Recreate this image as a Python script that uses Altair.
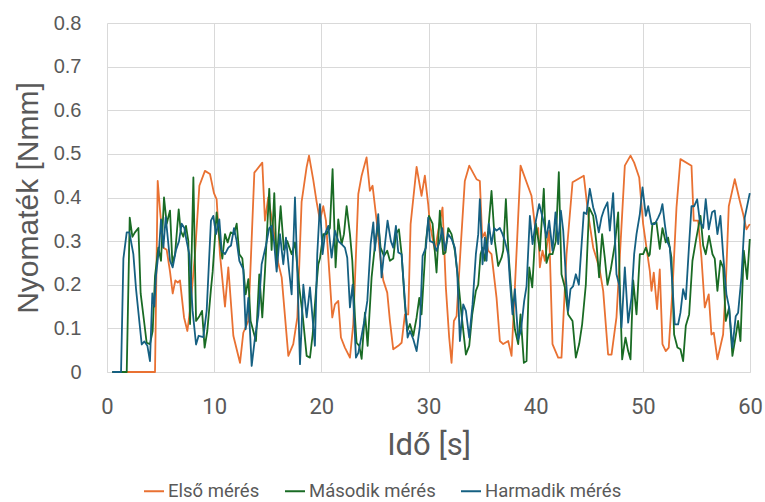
import altair as alt
import pandas as pd

# Torque measurements: time [s] and torque [Nmm] for three runs
t_first = [0.5, 4.48, 4.73, 4.95, 5.26, 5.57, 5.88, 6.13, 6.38, 6.60, 6.81, 7.19, 7.50, 7.81, 8.21, 8.62, 9.14, 9.61,
           9.98, 10.23, 10.54, 11.01, 11.32, 11.79, 12.41, 12.72, 13.19, 13.75, 14.49, 14.74, 15.05, 15.52, 15.98, 16.30,
           16.92, 17.38, 17.76, 18.16, 18.63, 18.85, 19.25, 19.56, 19.87,
           20.18, 20.43, 20.74, 21.02, 21.27, 21.58, 21.83, 22.20, 22.67, 22.98, 23.45, 23.76, 24.22, 24.53, 24.78, 25.16,
           25.47, 25.78, 26.15, 26.40, 26.71, 27.18, 27.49, 27.80, 28.11, 28.33, 28.89, 29.35, 29.66, 29.97,
           30.13, 30.60, 30.91, 31.31, 31.62, 31.93, 32.15, 32.37, 32.62, 33.02, 33.39, 33.80, 34.48, 34.79, 35.01, 35.26,
           35.57, 35.88, 36.35, 36.66, 36.97, 37.44, 37.75, 38.06, 38.28, 38.59, 39.61, 40.02, 40.24,
           40.39, 40.64, 40.86, 41.07, 41.26, 41.57, 42.10, 42.41, 42.88, 43.44, 44.49, 44.90, 45.37, 45.68, 45.99, 46.30,
           46.76, 47.08, 47.54, 47.95, 48.32, 48.85, 49.19, 49.66, 50.03, 50.34, 50.65,
           50.81, 51.02, 51.33, 51.58, 51.83, 52.14, 52.42, 52.76, 53.14, 53.51, 54.54, 54.75, 55.16, 55.47, 55.78, 56.15,
           56.40, 56.62, 56.96, 57.49, 57.74, 58.02, 58.58, 59.05, 59.36, 59.67, 59.98]
v_first = [0, 0, 0.438, 0.37, 0.285, 0.28, 0.23, 0.18, 0.21, 0.205, 0.21, 0.125, 0.094, 0.155, 0.27, 0.427, 0.461, 0.454,
           0.41, 0.396, 0.27, 0.15, 0.24, 0.083, 0.021, 0.09, 0.117, 0.457, 0.48, 0.347, 0.40, 0.33, 0.25, 0.217,
           0.037, 0.064, 0.125, 0.39, 0.47, 0.496, 0.44, 0.39, 0.347,
           0.38, 0.347, 0.23, 0.125, 0.155, 0.163, 0.079, 0.056, 0.033, 0.11, 0.408, 0.45, 0.492, 0.415, 0.427, 0.347,
           0.27, 0.21, 0.182, 0.117, 0.052, 0.06, 0.067, 0.132, 0.132, 0.339, 0.47, 0.404, 0.45, 0.385,
           0.339, 0.278, 0.324, 0.377, 0.194, 0.079, 0.021, 0.117, 0.128, 0.293, 0.438, 0.473, 0.442, 0.438, 0.308, 0.32,
           0.278, 0.27, 0.17, 0.071, 0.064, 0.071, 0.037, 0.194, 0.308, 0.473, 0.404, 0.316, 0.33,
           0.24, 0.278, 0.255, 0.293, 0.324, 0.064, 0.033, 0.033, 0.27, 0.435, 0.45, 0.362, 0.285, 0.26, 0.232, 0.186,
           0.04, 0.04, 0.125, 0.308, 0.473, 0.496, 0.48, 0.446, 0.339, 0.285, 0.232,
           0.186, 0.228, 0.144, 0.235, 0.064, 0.048, 0.056, 0.186, 0.377, 0.488, 0.473, 0.347, 0.347, 0.262, 0.148, 0.178,
           0.086, 0.09, 0.029, 0.086, 0.2, 0.38, 0.442, 0.392, 0.362, 0.327, 0.339]

t_second = [0.5, 1.84, 2.12, 2.37, 2.61, 2.93, 3.14, 3.49, 3.70, 4.01, 4.26, 4.48, 4.79, 5.04, 5.32, 5.57, 5.88, 6.10,
            6.35, 6.69, 6.87, 7.12, 7.37, 7.59, 7.75, 8.06, 8.31, 8.62, 8.87, 9.11, 9.36, 9.70,
            9.86, 10.23, 10.48, 10.76, 11.01, 11.26, 11.54, 11.85, 12.10, 12.35, 12.63, 12.94, 13.19, 13.40, 13.90, 14.21,
            14.49, 14.74, 15.14, 15.36, 15.61, 15.83, 16.20, 16.51, 16.82, 17.23, 17.54, 17.94, 18.25, 18.63, 18.94,
            19.19, 19.50, 19.72,
            19.87, 20.18, 20.49, 20.80, 21.05, 21.33, 21.58, 21.89, 22.11, 22.36, 22.67, 22.89, 23.14, 23.29, 23.54, 23.76,
            24.07, 24.32, 24.69, 25.00, 25.31, 25.53, 25.84, 26.15, 26.40, 26.71, 26.96, 27.24, 27.49, 27.80, 28.02,
            28.27, 28.58, 28.89, 29.14, 29.35, 29.76, 30.04,
            30.38, 30.75, 31.06, 31.37, 31.59, 31.84, 32.15, 32.46, 32.77, 33.08, 33.49, 33.80, 34.08, 34.42, 34.64, 34.86,
            35.04, 35.26, 35.57, 35.88, 36.19, 36.50, 36.82, 36.97, 37.22, 37.47, 37.75, 38.06, 38.37, 38.59, 38.90,
            39.15, 39.40, 39.68, 40.02, 40.39,
            40.76, 41.01, 41.26, 41.57, 41.88, 42.16, 42.41, 42.72, 43.03, 43.44, 43.75, 44.06, 44.34, 44.68, 44.99, 45.37,
            45.68, 45.92, 46.20, 46.45, 46.70, 47.01, 47.39, 47.70, 47.85, 48.07, 48.38, 48.63, 48.85, 49.10, 49.41,
            49.72, 50.03, 50.28, 50.56,
            50.65, 50.90, 51.27, 51.58, 51.83, 52.14, 52.36, 52.67, 52.92, 53.23, 53.51, 53.76, 54.01, 54.32, 54.63, 55.00,
            55.38, 55.63, 55.87, 56.18, 56.50, 56.71, 56.96, 57.24, 57.49, 57.74, 58.05, 58.36, 58.67, 58.89, 59.11,
            59.42, 59.73, 59.98]
v_second = [0, 0, 0.354, 0.31, 0.32, 0.33, 0.18, 0.11, 0.067, 0.064, 0.094, 0.22, 0.285, 0.255, 0.40, 0.34, 0.37, 0.25,
            0.27, 0.373, 0.324, 0.31, 0.335, 0.30, 0.11, 0.446, 0.117, 0.128, 0.14, 0.056, 0.094, 0.19,
            0.23, 0.366, 0.31, 0.26, 0.316, 0.297, 0.32, 0.316, 0.34, 0.27, 0.26, 0.178, 0.213, 0.117, 0.071, 0.224,
            0.125, 0.23, 0.42, 0.28, 0.41, 0.25, 0.38, 0.28, 0.30, 0.27, 0.297, 0.194, 0.132, 0.037, 0.033,
            0.086, 0.186, 0.247,
            0.26, 0.316, 0.316, 0.33, 0.465, 0.24, 0.35, 0.293, 0.316, 0.38, 0.316, 0.255, 0.125, 0.067, 0.06, 0.03,
            0.136, 0.06, 0.217, 0.29, 0.34, 0.285, 0.266, 0.278, 0.255, 0.26, 0.316, 0.327, 0.27, 0.155, 0.094,
            0.11, 0.083, 0.125, 0.17, 0.132, 0.30, 0.358,
            0.34, 0.228, 0.37, 0.27, 0.274, 0.33, 0.316, 0.278, 0.21, 0.132, 0.04, 0.06, 0.132, 0.186, 0.20, 0.27,
            0.285, 0.255, 0.324, 0.415, 0.30, 0.243, 0.262, 0.278, 0.396, 0.27, 0.178, 0.098, 0.064, 0.132, 0.021,
            0.025, 0.24, 0.194, 0.34, 0.278,
            0.42, 0.25, 0.27, 0.27, 0.30, 0.458, 0.224, 0.194, 0.132, 0.117, 0.033, 0.064, 0.11, 0.20, 0.377, 0.358,
            0.293, 0.217, 0.316, 0.262, 0.20, 0.235, 0.293, 0.366, 0.20, 0.029, 0.079, 0.048, 0.029, 0.21, 0.132,
            0.27, 0.27, 0.285, 0.266,
            0.27, 0.34, 0.343, 0.282, 0.33, 0.297, 0.308, 0.262, 0.086, 0.056, 0.052, 0.025, 0.106, 0.132, 0.255, 0.308,
            0.358, 0.29, 0.27, 0.312, 0.27, 0.26, 0.186, 0.255, 0.24, 0.117, 0.148, 0.037, 0.083, 0.117, 0.071,
            0.278, 0.213, 0.305]

t_third = [0.5, 1.31, 1.53, 1.84, 2.09, 2.46, 2.71, 3.24, 3.49, 3.77, 4.01, 4.23, 4.42, 4.57, 4.88, 5.04, 5.26, 5.48,
           5.66, 5.88, 6.13, 6.44, 6.72, 6.97, 7.22, 7.43, 7.68, 7.99, 8.31, 8.55, 8.99, 9.30, 9.70,
           9.92, 10.17, 10.48, 10.70, 11.01, 11.32, 11.57, 11.85, 12.10, 12.35, 12.72, 12.94, 13.19, 13.50, 13.81, 14.12,
           14.43, 14.83, 15.14, 15.36, 15.58, 15.83, 16.14, 16.45, 16.70, 16.98, 17.23, 17.54, 17.76, 18.01, 18.32,
           18.63, 18.94, 19.40, 19.62,
           19.87, 20.12, 20.34, 20.65, 20.96, 21.27, 21.58, 21.89, 22.20, 22.42, 22.67, 22.92, 23.23, 23.45, 23.76, 24.01,
           24.29, 24.60, 24.85, 25.00, 25.31, 25.62, 25.87, 26.18, 26.49, 26.71, 26.96, 27.18, 27.49, 27.80, 28.05,
           28.27, 28.58, 28.89, 29.20, 29.45, 29.76, 29.98,
           30.13, 30.44, 30.75, 31.06, 31.28, 31.53, 31.84, 32.15, 32.46, 32.68, 32.93, 33.24, 33.49, 33.80, 34.11, 34.42,
           34.64, 34.79, 35.04, 35.26, 35.42, 35.63, 35.88, 36.13, 36.35, 36.66, 36.91, 37.13, 37.44, 37.59, 37.84,
           38.06, 38.37, 38.62, 38.93, 39.15, 39.46, 39.71, 40.02, 40.33,
           40.76, 41.01, 41.26, 41.57, 41.85, 42.10, 42.35, 42.57, 42.82, 43.03, 43.25, 43.50, 43.75, 44.03, 44.49, 44.74,
           45.05, 45.37, 45.61, 45.89, 46.14, 46.39, 46.70, 46.92, 47.23, 47.54, 47.79, 48.01, 48.32, 48.63, 48.94,
           49.19, 49.41, 49.72, 49.97, 50.28, 50.50, 50.81,
           51.12, 51.43, 51.65, 51.83, 52.05, 52.27, 52.52, 52.76, 52.98, 53.29, 53.51, 53.76, 54.01, 54.32, 54.54, 54.79,
           55.07, 55.31, 55.63, 55.87, 56.15, 56.46, 56.71, 56.96, 57.24, 57.49, 57.80, 58.05, 58.36, 58.67, 58.89,
           59.20, 59.51, 59.98]
v_third = [0, 0, 0.26, 0.32, 0.32, 0.27, 0.19, 0.063, 0.07, 0.06, 0.025, 0.18, 0.15, 0.22, 0.29, 0.35, 0.285, 0.355,
           0.31, 0.255, 0.24, 0.28, 0.30, 0.34, 0.33, 0.30, 0.27, 0.14, 0.063, 0.083, 0.08, 0.14, 0.347,
           0.358, 0.316, 0.35, 0.278, 0.27, 0.285, 0.29, 0.33, 0.30, 0.255, 0.235, 0.098, 0.17, 0.014, 0.079, 0.13,
           0.247, 0.29, 0.33, 0.335, 0.30, 0.23, 0.316, 0.247, 0.308, 0.235, 0.178, 0.40, 0.23, 0.018, 0.20,
           0.125, 0.194, 0.06, 0.27,
           0.385, 0.27, 0.316, 0.335, 0.262, 0.324, 0.30, 0.293, 0.285, 0.262, 0.148, 0.20, 0.033, 0.044, 0.083, 0.117,
           0.163, 0.293, 0.343, 0.278, 0.362, 0.217, 0.278, 0.347, 0.30, 0.285, 0.335, 0.274, 0.27, 0.163, 0.079,
           0.094, 0.075, 0.048, 0.106, 0.266, 0.285, 0.354,
           0.30, 0.297, 0.278, 0.30, 0.33, 0.278, 0.316, 0.305, 0.285, 0.23, 0.071, 0.155, 0.14, 0.079, 0.155, 0.27,
           0.316, 0.396, 0.247, 0.308, 0.255, 0.34, 0.293, 0.33, 0.324, 0.33, 0.316, 0.30, 0.27, 0.21, 0.132,
           0.19, 0.075, 0.094, 0.163, 0.197, 0.358, 0.293, 0.347, 0.385,
           0.343, 0.308, 0.347, 0.278, 0.366, 0.293, 0.37, 0.324, 0.217, 0.14, 0.19, 0.197, 0.224, 0.20, 0.366, 0.362,
           0.42, 0.377, 0.358, 0.32, 0.354, 0.373, 0.389, 0.324, 0.41, 0.224, 0.20, 0.102, 0.24, 0.113, 0.17,
           0.27, 0.316, 0.362, 0.423, 0.358, 0.38, 0.339,
           0.339, 0.354, 0.366, 0.385, 0.339, 0.30, 0.285, 0.20, 0.109, 0.109, 0.136, 0.19, 0.167, 0.293, 0.38, 0.38,
           0.396, 0.347, 0.33, 0.396, 0.327, 0.366, 0.37, 0.316, 0.358, 0.27, 0.178, 0.148, 0.056, 0.128, 0.136,
           0.217, 0.354, 0.41]

series_names = ["Első mérés", "Második mérés", "Harmadik mérés"]
series_colors = ["#E97132", "#196B24", "#156082"]
x_ticks = [0, 10, 20, 30, 40, 50, 60]
y_ticks = [0, 0.1, 0.2, 0.3, 0.4, 0.5, 0.6, 0.7, 0.8]

frames = []
for name, ts, vs in zip(series_names, [t_first, t_second, t_third], [v_first, v_second, v_third]):
    frames.append(pd.DataFrame({"ido": ts, "nyomatek": vs, "meres": name}))
df = pd.concat(frames, ignore_index=True)

label_font = "Roboto"
gray = "#595959"

chart = alt.Chart(df).mark_line(strokeWidth=1.8, strokeJoin="round").encode(
    x=alt.X("ido:Q",
            scale=alt.Scale(domain=[0, 60], nice=False, zero=False),
            axis=alt.Axis(values=x_ticks, title="Idő [s]", grid=True, gridColor="#D9D9D9",
                          domain=True, domainColor="#D9D9D9", ticks=False, tickSize=0,
                          labelFlush=False, labelOverlap=False,
                          labelFont=label_font, labelFontSize=22, labelColor=gray, labelPadding=24,
                          titleFont=label_font, titleFontSize=31, titleFontWeight="normal", titleColor=gray,
                          titleY=73, titleBaseline="middle")),
    y=alt.Y("nyomatek:Q",
            scale=alt.Scale(domain=[0, 0.8], nice=False),
            axis=alt.Axis(values=y_ticks, format="~g", title="Nyomaték [Nmm]", grid=True, gridColor="#D9D9D9",
                          domain=False, ticks=False, tickSize=0, labelFlush=False,
                          labelFont="Liberation Sans", labelFontSize=20, labelColor=gray, labelPadding=26,
                          titleFont="Liberation Sans", titleFontSize=30, titleFontWeight="normal", titleColor=gray,
                          titleX=-79, titleY=174.5, titleBaseline="middle", titleAngle=-90)),
    color=alt.Color("meres:N",
                    scale=alt.Scale(domain=series_names, range=series_colors),
                    legend=alt.Legend(title=None, orient="none", direction="horizontal", columns=3,
                                      legendX=36, legendY=457, padding=0,
                                      symbolType="stroke", symbolSize=400, symbolStrokeWidth=2,
                                      labelFont=label_font, labelFontSize=18.5, labelColor=gray,
                                      labelOffset=3, columnPadding=21)),
    detail="meres:N",
).properties(
    width=643,
    height=349,
    autosize=alt.AutoSizeParams(type="none"),
    padding={"left": 107, "top": 23, "right": 15, "bottom": 130},
).configure_view(stroke=None)

chart.save("out.html", embed_options={"renderer": "svg", "actions": False})
